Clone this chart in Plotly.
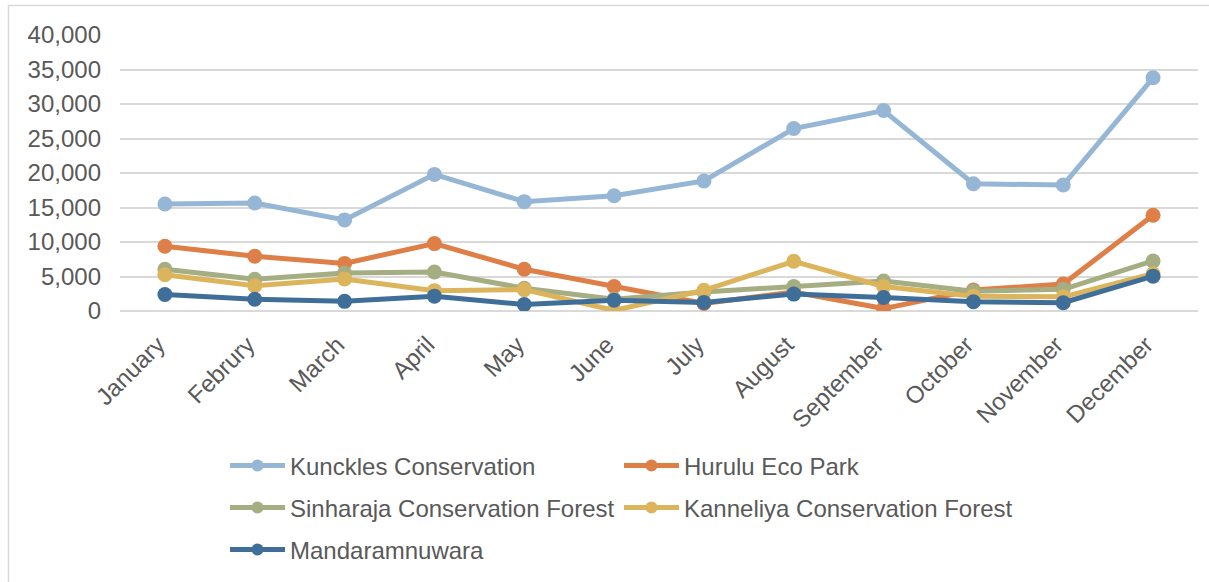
import plotly.graph_objects as go

# Monthly visitor counts per site
months = ["January", "Februry", "March", "April", "May", "June",
          "July", "August", "September", "October", "November", "December"]

kunckles = [15500, 15650, 13200, 19800, 15850, 16700, 18850, 26450, 29050, 18450, 18250, 33800]
hurulu = [9380, 7930, 6900, 9770, 6050, 3550, 1100, 2750, 350, 3050, 3900, 13870]
sinharaja = [6050, 4600, 5500, 5650, 3300, 1700, 2750, 3550, 4350, 2850, 3150, 7250]
kanneliya = [5250, 3650, 4650, 2950, 3100, 80, 3000, 7200, 3550, 2150, 2050, 5400]
mandaram = [2400, 1700, 1400, 2150, 950, 1550, 1250, 2450, 1950, 1350, 1200, 5050]

series = [
    ("Kunckles Conservation", kunckles, "#95B6D5", "legend"),
    ("Hurulu Eco Park", hurulu, "#DD7F46", "legend"),
    ("Sinharaja Conservation Forest", sinharaja, "#A5AE82", "legend2"),
    ("Kanneliya Conservation Forest", kanneliya, "#DCB45C", "legend2"),
    ("Mandaramnuwara", mandaram, "#3F6F99", "legend3"),
]

FONT = "Liberation Sans, Arial, sans-serif"
TEXT = "#595959"
GRID = "#D9D9D9"
W, H = 1209, 582
FS = 24

fig = go.Figure()
for name, vals, color, leg in series:
    fig.add_trace(go.Scatter(
        x=months, y=vals, name=name, mode="lines+markers",
        line=dict(color=color, width=5),
        marker=dict(color=color, size=15),
        legend=leg,
    ))

def legend_row(y_px):
    return dict(
        orientation="h", xref="container", yref="container",
        x=225 / W, xanchor="left", y=1 - y_px / H, yanchor="middle",
        entrywidth=324, itemwidth=55, itemsizing="constant",
        font=dict(family=FONT, size=FS, color=TEXT),
        bgcolor="rgba(0,0,0,0)", borderwidth=0,
        tracegroupgap=0,
    )

fig.update_layout(
    width=W, height=H,
    margin=dict(l=120, r=11, t=35, b=271),
    paper_bgcolor="white", plot_bgcolor="white",
    font=dict(family=FONT, color=TEXT),
    showlegend=True,
    legend=legend_row(466),
    legend2=legend_row(508),
    legend3=legend_row(550),
    xaxis=dict(
        type="category", range=[-0.5, 11.5], tickangle=-45,
        showgrid=False, showline=False, ticks="",
        tickfont=dict(family=FONT, size=FS, color=TEXT),
        ticklabelstandoff=14, ticklabelshift=-7,
    ),
    yaxis=dict(
        range=[0, 40000], dtick=5000, tickformat=",d",
        showgrid=True, gridcolor=GRID, gridwidth=1.5,
        zeroline=True, zerolinecolor=GRID, zerolinewidth=1.5,
        showline=False, ticks="",
        tickfont=dict(family=FONT, size=FS, color=TEXT),
        ticklabelstandoff=18,
    ),
    shapes=[dict(
        type="rect", xref="paper", yref="paper",
        x0=(8.5 - 120) / 1078, x1=(1215 - 120) / 1078,
        y0=(311 - 600) / 276, y1=(311 - 5.5) / 276,
        line=dict(color=GRID, width=1.5), fillcolor="rgba(0,0,0,0)",
        layer="below",
    )],
)

fig.write_html("out.html")
